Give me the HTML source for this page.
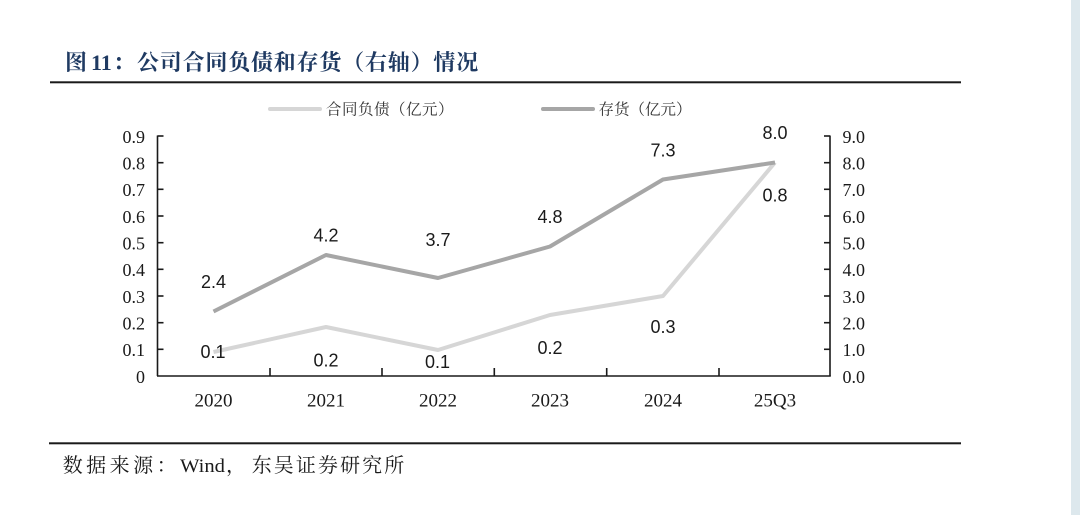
<!DOCTYPE html>
<html>
<head>
<meta charset="utf-8">
<style>
  html, body { margin: 0; padding: 0; background: #ffffff; }
  body { width: 1080px; height: 515px; overflow: hidden; }
  svg { display: block; }
  .serif { font-family: "Liberation Serif", "Noto Serif CJK SC", serif; }
  .sans { font-family: "Liberation Sans", "Noto Sans CJK SC", sans-serif; }
  .cjk { font-family: "Liberation Serif", "Noto Serif CJK SC", serif; }
</style>
</head>
<body>
<svg width="1080" height="515" viewBox="0 0 1080 515" xmlns="http://www.w3.org/2000/svg">
  <rect x="0" y="0" width="1080" height="515" fill="#ffffff"/>
  <rect x="1071" y="0" width="9" height="515" fill="#dde8ed"/>

  <!-- Title -->
  <g fill="#1f3a62" font-weight="bold">
    <text x="65" y="70" class="cjk" font-size="22">图</text>
    <text x="91" y="70" class="serif" font-size="22">11</text>
    <text x="113" y="70" class="cjk" font-size="22">：</text>
    <text x="137" y="70" class="cjk" font-size="22" letter-spacing="0.8">公司合同负债和存货（右轴）情况</text>
  </g>
  <rect x="50" y="81.3" width="911" height="2" fill="#1a1a1a"/>

  <!-- Legend -->
  <line x1="270" y1="109" x2="320" y2="109" stroke="#d6d6d6" stroke-width="4" stroke-linecap="round"/>
  <text x="326" y="114.5" class="cjk" font-size="15.5" letter-spacing="0.5" fill="#333">合同负债（亿元）</text>
  <line x1="543" y1="109" x2="593" y2="109" stroke="#a6a6a6" stroke-width="4" stroke-linecap="round"/>
  <text x="598.5" y="114.5" class="cjk" font-size="15.5" letter-spacing="0" fill="#333">存货（亿元）</text>

  <!-- Axes -->
  <g stroke="#1a1a1a" stroke-width="1.6" fill="none">
    <line x1="157.5" y1="135.5" x2="157.5" y2="376"/>
    <line x1="830" y1="135.5" x2="830" y2="376"/>
    <line x1="157" y1="376" x2="830.8" y2="376"/>
    <line x1="157.5" y1="136" x2="163.5" y2="136"/>
    <line x1="157.5" y1="162.7" x2="163.5" y2="162.7"/>
    <line x1="157.5" y1="189.3" x2="163.5" y2="189.3"/>
    <line x1="157.5" y1="216" x2="163.5" y2="216"/>
    <line x1="157.5" y1="242.7" x2="163.5" y2="242.7"/>
    <line x1="157.5" y1="269.3" x2="163.5" y2="269.3"/>
    <line x1="157.5" y1="296" x2="163.5" y2="296"/>
    <line x1="157.5" y1="322.7" x2="163.5" y2="322.7"/>
    <line x1="157.5" y1="349.3" x2="163.5" y2="349.3"/>
    <line x1="824" y1="136" x2="830" y2="136"/>
    <line x1="824" y1="162.7" x2="830" y2="162.7"/>
    <line x1="824" y1="189.3" x2="830" y2="189.3"/>
    <line x1="824" y1="216" x2="830" y2="216"/>
    <line x1="824" y1="242.7" x2="830" y2="242.7"/>
    <line x1="824" y1="269.3" x2="830" y2="269.3"/>
    <line x1="824" y1="296" x2="830" y2="296"/>
    <line x1="824" y1="322.7" x2="830" y2="322.7"/>
    <line x1="824" y1="349.3" x2="830" y2="349.3"/>
    <line x1="270" y1="368" x2="270" y2="376"/>
    <line x1="382" y1="368" x2="382" y2="376"/>
    <line x1="494.3" y1="368" x2="494.3" y2="376"/>
    <line x1="606.7" y1="368" x2="606.7" y2="376"/>
    <line x1="719" y1="368" x2="719" y2="376"/>
  </g>

  <!-- Left axis labels -->
  <g class="serif" font-size="18" fill="#1a1a1a" text-anchor="end">
    <text x="145" y="142.8">0.9</text>
    <text x="145" y="169.5">0.8</text>
    <text x="145" y="196.1">0.7</text>
    <text x="145" y="222.8">0.6</text>
    <text x="145" y="249.5">0.5</text>
    <text x="145" y="276.1">0.4</text>
    <text x="145" y="302.8">0.3</text>
    <text x="145" y="329.5">0.2</text>
    <text x="145" y="356.1">0.1</text>
    <text x="145" y="382.8">0</text>
  </g>

  <!-- Right axis labels -->
  <g class="serif" font-size="18" fill="#1a1a1a" text-anchor="start">
    <text x="842.5" y="142.8">9.0</text>
    <text x="842.5" y="169.5">8.0</text>
    <text x="842.5" y="196.1">7.0</text>
    <text x="842.5" y="222.8">6.0</text>
    <text x="842.5" y="249.5">5.0</text>
    <text x="842.5" y="276.1">4.0</text>
    <text x="842.5" y="302.8">3.0</text>
    <text x="842.5" y="329.5">2.0</text>
    <text x="842.5" y="356.1">1.0</text>
    <text x="842.5" y="382.8">0.0</text>
  </g>

  <!-- X labels -->
  <g class="serif" font-size="19" fill="#1a1a1a" text-anchor="middle">
    <text x="213.5" y="406.3">2020</text>
    <text x="326" y="406.3">2021</text>
    <text x="438" y="406.3">2022</text>
    <text x="550" y="406.3">2023</text>
    <text x="663" y="406.3">2024</text>
    <text x="775" y="406.3">25Q3</text>
  </g>

  <!-- Series -->
  <polyline points="213.5,352 326,327 438,350 550,315 663,296 775,162.5" fill="none" stroke="#d6d6d6" stroke-width="4" stroke-linejoin="round"/>
  <polyline points="213.5,311.5 326,255 438,278 550,246.5 663,179.5 775,162.5" fill="none" stroke="#a6a6a6" stroke-width="4" stroke-linejoin="round"/>

  <!-- Data labels -->
  <g class="sans" font-size="18" fill="#1a1a1a" text-anchor="middle">
    <text x="213.5" y="288">2.4</text>
    <text x="326" y="241.5">4.2</text>
    <text x="438" y="245.8">3.7</text>
    <text x="550" y="223.2">4.8</text>
    <text x="663" y="156.5">7.3</text>
    <text x="775" y="138.8">8.0</text>
    <text x="213" y="358">0.1</text>
    <text x="326" y="366.5">0.2</text>
    <text x="437.5" y="368">0.1</text>
    <text x="550" y="354">0.2</text>
    <text x="663" y="333">0.3</text>
    <text x="775" y="201.5">0.8</text>
  </g>

  <!-- Bottom rule and source -->
  <rect x="49" y="442.3" width="912" height="2" fill="#1a1a1a"/>
  <g fill="#1a1a1a">
    <text x="62.7" y="472" class="cjk" font-size="20" letter-spacing="3.5">数据来源：</text>
    <text x="180" y="472" class="serif" font-size="19" textLength="45" lengthAdjust="spacingAndGlyphs">Wind</text>
    <text x="226" y="472" class="cjk" font-size="20">，</text>
    <text x="251.7" y="472" class="cjk" font-size="20" letter-spacing="2.1">东吴证券研究所</text>
  </g>
</svg>
</body>
</html>
